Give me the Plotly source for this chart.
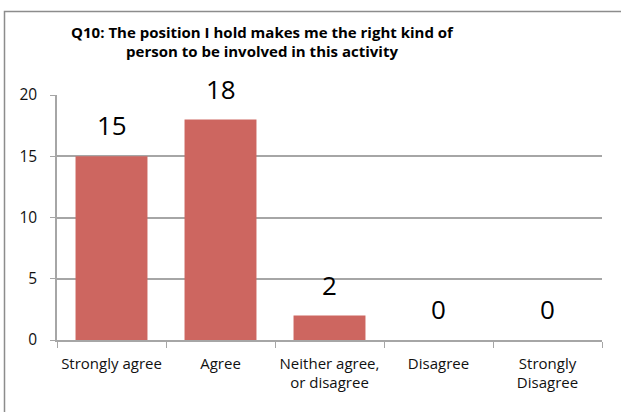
import plotly.graph_objects as go

# survey answers for Q10
categories = ["Strongly agree", "Agree", "Neither agree,<br>or disagree", "Disagree", "Strongly<br>Disagree"]
counts = [15, 18, 2, 0, 0]
y_ticks = [0, 5, 10, 15, 20]

BAR = "#CD6660"
GRID = "#A6A6A6"
TEXT = "#111111"
FONT = "Open Sans, Liberation Sans, sans-serif"

W, H = 621, 412
L, R, T, B = 57, 19, 95, 72

fig = go.Figure(go.Bar(
    x=categories, y=counts,
    marker=dict(color=BAR, line=dict(width=0)),
    width=0.66,
))

# value labels sit well above the bars
for c, v in zip(categories, counts):
    fig.add_annotation(x=c, y=v, text=str(v), showarrow=False,
                       yanchor="bottom", yshift=11,
                       font=dict(family=FONT, size=26, color="#000"))

pw, ph = W - L - R, H - T - B
fig.add_shape(type="rect", xref="paper", yref="paper",
              x0=(4.5 - L) / pw, x1=(W + 5 - L) / pw,
              y0=-(H + 5 - T - ph) / ph, y1=1 + (T - 11.5) / ph,
              line=dict(color="#8C8C8C", width=1.5), layer="below")

fig.update_layout(
    width=W, height=H,
    margin=dict(l=L, r=R, t=T, b=B),
    plot_bgcolor="white", paper_bgcolor="white",
    font=dict(family=FONT, size=15, color=TEXT),
    showlegend=False,
    bargap=0.34,
    title=dict(text="<b>Q10: The position I hold makes me the right kind of<br>person to be involved in this activity</b>",
               x=262 / W, xanchor="center", y=1 - 37.5 / H, yanchor="middle",
               font=dict(family=FONT, size=15, color="#000")),
)
fig.update_xaxes(showline=True, linecolor=GRID, linewidth=1.5, automargin=False,
                 tickangle=0, ticklabelstandoff=9,
                 ticks="outside", tickson="boundaries", ticklen=6, tickcolor=GRID,
                 tickfont=dict(size=15, color=TEXT))
fig.update_yaxes(range=[0, 20], tickvals=y_ticks, showgrid=True, gridcolor=GRID, gridwidth=1.5,
                 showline=True, linecolor=GRID, linewidth=1.5, zeroline=False, automargin=False,
                 ticklabelstandoff=10,
                 ticks="outside", ticklen=5, tickcolor=GRID,
                 tickfont=dict(size=15.5, color=TEXT))

# drop the browser's default body margin so the figure sits at the window's corner
fig.write_html("out.html", config={"displayModeBar": False},
               post_script="document.body.style.margin='0';")
